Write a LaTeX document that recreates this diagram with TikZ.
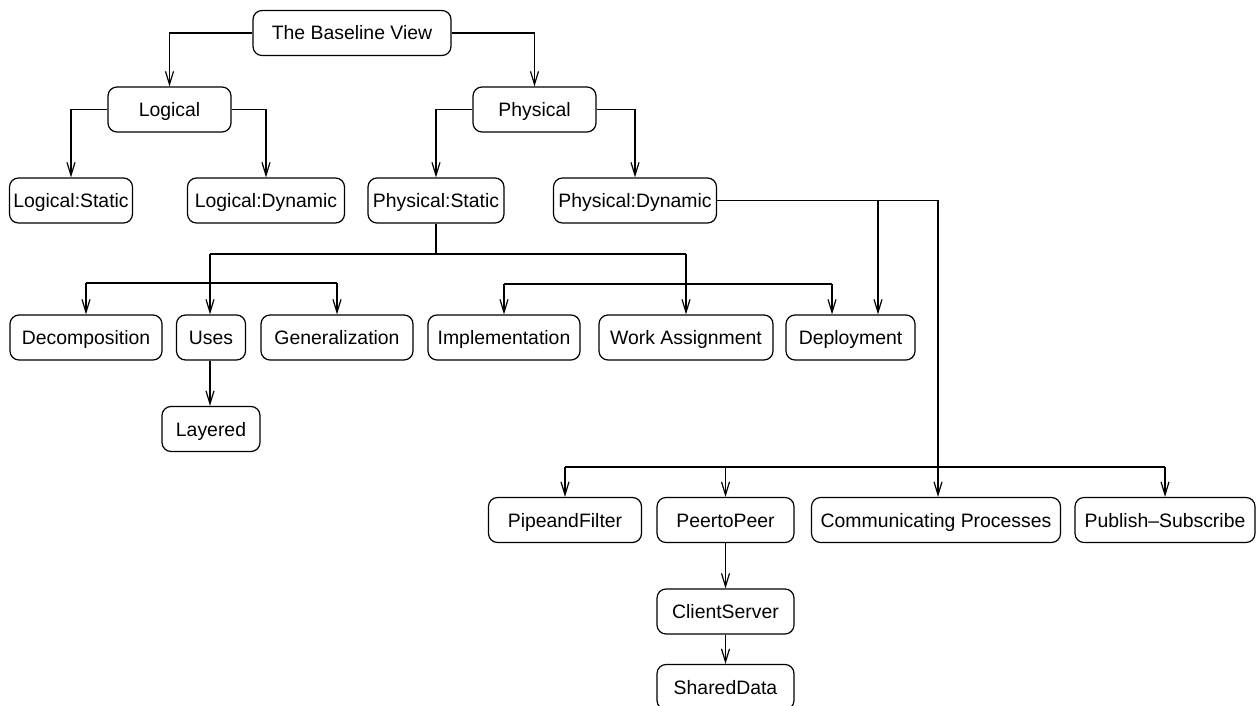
\documentclass[tikz,border=0pt]{standalone}
\usepackage{fontspec}
\setmainfont{Liberation Sans}
\usetikzlibrary{arrows.meta}
\begin{document}
\begin{tikzpicture}[x=1pt,y=-1pt,
  box/.style={draw, line width=1.2pt, rounded corners=9pt, inner sep=0pt,
    minimum height=45pt, text height=16pt, text depth=2pt,
    font=\fontsize{19.4}{23}\selectfont},
  link/.style={line width=1.2pt},
  arr/.style={link, -{Straight Barb[length=13pt,width=8pt,line width=1.2pt]}}]
\clip (0,0) rectangle (1257,706);

% nodes
\node[box, minimum width=198pt] (base)    at (352,33)     {The Baseline View};
\node[box, minimum width=123pt] (logical) at (169.5,109.5) {Logical};
\node[box, minimum width=123pt] (phys)    at (534.5,109.5) {Physical};
\node[box, minimum width=123pt] (lstat)   at (71,200.5)   {Logical:Static};
\node[box, minimum width=157pt] (ldyn)    at (266,200.5)  {Logical:Dynamic};
\node[box, minimum width=136pt] (pstat)   at (436,200.5)  {Physical:Static};
\node[box, minimum width=163pt] (pdyn)    at (635,200.5)  {Physical:Dynamic};
\node[box, minimum width=152pt] (decomp)  at (86,337.5)   {Decomposition};
\node[box, minimum width=69pt]  (uses)    at (211,337.5)  {Uses};
\node[box, minimum width=152pt] (general) at (337,337.5)  {Generalization};
\node[box, minimum width=152pt] (impl)    at (504,337.5)  {Implementation};
\node[box, minimum width=174pt] (work)    at (686,337.5)  {Work Assignment};
\node[box, minimum width=129pt] (deploy)  at (850.5,337.5) {Deployment};
\node[box, minimum width=98pt]  (layered) at (211,429)    {Layered};
\node[box, minimum width=153pt] (pipe)    at (565,520)    {PipeandFilter};
\node[box, minimum width=137pt] (peer)    at (725.5,520)  {PeertoPeer};
\node[box, minimum width=249pt] (comm)    at (936,520)    {Communicating Processes};
\node[box, minimum width=180pt] (pubsub)  at (1165,520)   {Publish--Subscribe};
\node[box, minimum width=137pt] (client)  at (725.5,611.5) {ClientServer};
\node[box, minimum width=137pt] (shared)  at (725.5,687)  {SharedData};

% top levels
\draw[arr] (base.west) -| (logical.north);
\draw[arr] (base.east) -| (phys.north);
\draw[arr] (logical.west) -| (lstat.north);
\draw[arr] (logical.east) -| (ldyn.north);
\draw[arr] (phys.west) -| (pstat.north);
\draw[arr] (phys.east) -| (pdyn.north);

% Physical:Static subtree
\coordinate (sa) at (436,254);
\coordinate (sl) at (210,254);
\coordinate (sr) at (686,254);
\coordinate (ul) at (86,283);
\coordinate (um) at (210,283);
\coordinate (ur) at (337,283);
\coordinate (wl) at (504,284);
\coordinate (wm) at (686,284);
\coordinate (wr) at (832,284);
\draw[link] (pstat.south) -- (sa);
\draw[link] (sl) -- (sr);
\draw[link] (sl) -- (um);
\draw[link] (ul) -- (ur);
\draw[link] (wl) -- (wr);
\draw[arr] (ul) -- (ul |- decomp.north);
\draw[arr] (um) -- (um |- uses.north);
\draw[arr] (ur) -- (ur |- general.north);
\draw[arr] (sr) -- (sr |- work.north);
\draw[arr] (wl) -- (wl |- impl.north);
\draw[arr] (wr) -- (wr |- deploy.north);
\draw[arr] (uses.south -| um) -- (um |- layered.north);

% Physical:Dynamic subtree
\coordinate (da) at (938,200.5);
\coordinate (db) at (878,200.5);
\coordinate (dt) at (938,467);
\coordinate (tl) at (565,467);
\coordinate (tp) at (725.5,467);
\coordinate (tr) at (1165,467);
\draw[link] (pdyn.east) -- (da) -- (dt);
\draw[arr] (db) -- (db |- deploy.north);
\draw[link] (tl) -- (tr);
\draw[arr] (tl) -- (pipe.north);
\draw[arr] (tp) -- (peer.north);
\draw[arr] (dt) -- (dt |- comm.north);
\draw[arr] (tr) -- (pubsub.north);
\draw[arr] (peer.south) -- (client.north);
\draw[arr] (client.south) -- (shared.north);
\end{tikzpicture}
\end{document}
